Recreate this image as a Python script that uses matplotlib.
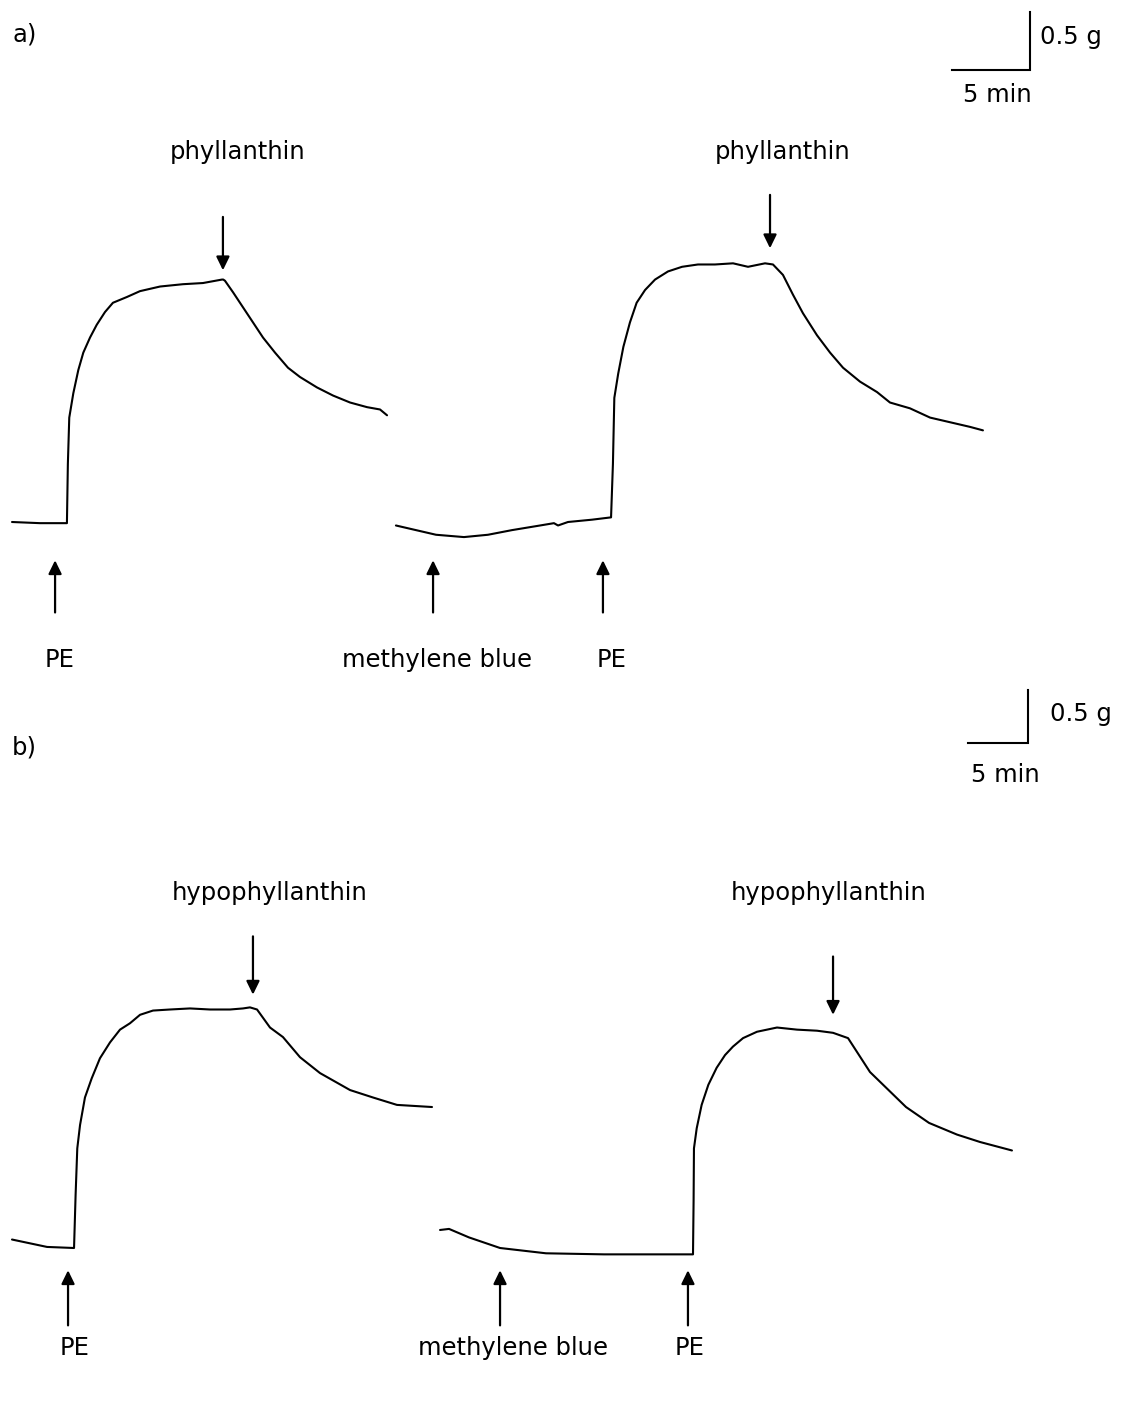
import matplotlib
matplotlib.use("Agg")
import matplotlib.pyplot as plt

# ---------------- data (time in min, tension in g above PE baseline) ----------------
# panel a) phyllanthin
a1_t = [0.77, 2.56, 4.29, 4.35, 4.44, 4.70, 5.02, 5.34, 5.77, 6.20, 6.73, 7.24, 8.14,
        8.97, 10.26, 11.73, 13.01, 14.23, 14.31, 14.42, 14.94, 15.58, 16.22, 16.86,
        17.63, 18.46, 19.23, 20.32, 21.35, 22.44, 23.53, 24.36, 24.81]
a1_g = [0.00, -0.01, -0.01, 0.50, 0.90, 1.11, 1.31, 1.46, 1.59, 1.70, 1.81, 1.89, 1.94,
        1.99, 2.03, 2.05, 2.06, 2.09, 2.09, 2.08, 1.98, 1.85, 1.72, 1.59,
        1.46, 1.33, 1.25, 1.16, 1.09, 1.03, 0.99, 0.97, 0.92]

a2_t = [25.38, 27.95, 29.74, 31.28, 32.82, 34.62, 35.51, 35.77, 36.41, 37.95, 39.17,
        39.29, 39.38, 39.63, 39.96, 40.38, 40.81, 41.35, 41.99, 42.82, 43.72, 44.74,
        45.83, 46.99, 47.95, 49.04, 49.55, 50.19, 50.83, 51.47, 52.37, 53.21, 54.04,
        55.13, 56.22, 57.05, 58.33, 59.62, 60.90, 62.18, 63.01]
a2_g = [-0.03, -0.11, -0.13, -0.11, -0.07, -0.03, -0.01, -0.03, 0.00, 0.02, 0.04,
        0.50, 1.07, 1.28, 1.51, 1.72, 1.89, 2.00, 2.09, 2.16, 2.20, 2.22,
        2.22, 2.23, 2.20, 2.23, 2.22, 2.13, 1.96, 1.80, 1.61, 1.46, 1.33,
        1.21, 1.12, 1.03, 0.98, 0.90, 0.86, 0.82, 0.79]

# panel b) hypophyllanthin
b1_t = [1.00, 2.25, 3.92, 6.17, 6.30, 6.44, 6.67, 7.08, 7.64, 8.33, 9.17, 10.00,
        10.83, 11.67, 12.75, 14.17, 15.83, 17.50, 19.17, 20.25, 20.83, 21.42, 22.50,
        23.58, 25.00, 26.67, 29.17, 31.08, 33.08, 36.00]
b1_g = [0.08, 0.05, 0.01, 0.00, 0.50, 0.94, 1.16, 1.42, 1.60, 1.79, 1.94, 2.06,
        2.12, 2.20, 2.24, 2.25, 2.26, 2.25, 2.25, 2.26, 2.27, 2.25, 2.08,
        1.99, 1.80, 1.65, 1.49, 1.42, 1.35, 1.33]

b2_t = [36.67, 37.42, 39.08, 41.67, 45.50, 50.33, 57.75, 57.80, 57.83, 58.06, 58.47,
        59.03, 59.72, 60.42, 61.08, 61.92, 63.08, 64.75, 66.42, 68.08, 69.42, 70.67,
        72.50, 75.50, 77.42, 79.75, 81.67, 84.33]
b2_g = [0.17, 0.18, 0.10, 0.00, -0.05, -0.06, -0.06, 0.45, 0.94, 1.13, 1.35,
        1.54, 1.70, 1.82, 1.90, 1.98, 2.04, 2.08, 2.06, 2.05, 2.03, 1.98,
        1.66, 1.33, 1.18, 1.07, 1.00, 0.92]

# events (time of addition, min)
a_drug_times = [14.29, 49.36]
a_drug_tip = [2.17, 2.36]
a_drug_label_t = [15.26, 50.19]
a_up_times = [3.53, 27.76, 38.65]
a_up_labels = ["PE", "methylene blue", "PE"]
a_up_label_t = [3.85, 28.01, 39.23]

b_drug_times = [21.08, 69.42]
b_drug_tip = [2.39, 2.20]
b_drug_label_t = [22.5, 69.08]
b_up_times = [5.67, 41.67, 57.33]
b_up_labels = ["PE", "methylene blue", "PE"]
b_up_label_t = [6.25, 42.75, 57.5]

# ---------------- figure ----------------
W, H = 1122, 1401
fig = plt.figure(figsize=(W / 100, H / 100), dpi=100)
FS = 17.5

def make_ax(top_px, bot_px, px_per_min, px_per_g, base_px):
    ax = fig.add_axes([0, 1 - bot_px / H, 1, (bot_px - top_px) / H])
    ax.set_xlim(0, W / px_per_min)
    ax.set_ylim((base_px - bot_px) / px_per_g, (base_px - top_px) / px_per_g)
    ax.axis("off")
    ax.patch.set_alpha(0)
    return ax

axa = make_ax(0, 700, 15.6, 116, 522)
axb = make_ax(680, 1401, 12.0, 106, 1248)

def arrow(ax, t, y_tip, y_tail):
    ax.annotate("", xy=(t, y_tip), xytext=(t, y_tail),
                arrowprops=dict(arrowstyle="-|>,head_length=0.45,head_width=0.22",
                                lw=1.6, color="black", mutation_scale=18,
                                shrinkA=0, shrinkB=0))

def scalebar(ax, t_right, g_bottom, label_g_t, label_min_t, label_min_g):
    ax.plot([t_right - 5, t_right, t_right], [g_bottom, g_bottom, g_bottom + 0.5],
            color="black", lw=1.5, solid_joinstyle="miter")
    ax.text(label_g_t, g_bottom + 0.28, "0.5 g", fontsize=FS, ha="left", va="center")
    ax.text(label_min_t, label_min_g, "5 min", fontsize=FS, ha="center", va="center")

TRACE = dict(color="black", lw=1.5, solid_joinstyle="round", solid_capstyle="round")

# panel a
axa.plot(a1_t, a1_g, **TRACE)
axa.plot(a2_t, a2_g, **TRACE)
for t, tip, lt in zip(a_drug_times, a_drug_tip, a_drug_label_t):
    arrow(axa, t, tip, tip + 0.46)
    axa.text(lt, 3.19, "phyllanthin", fontsize=FS, ha="center", va="center")
for t, lt, lab in zip(a_up_times, a_up_label_t, a_up_labels):
    arrow(axa, t, -0.33, -0.78)
    axa.text(lt, -1.19, lab, fontsize=FS, ha="center", va="center")
axa.text(0.77, 4.20, "a)", fontsize=FS, ha="left", va="center")
scalebar(axa, 66.03, 3.897, 66.67, 63.9, 3.68)

# panel b
axb.plot(b1_t, b1_g, **TRACE)
axb.plot(b2_t, b2_g, **TRACE)
for t, tip, lt in zip(b_drug_times, b_drug_tip, b_drug_label_t):
    arrow(axb, t, tip, tip + 0.55)
    axb.text(lt, 3.35, "hypophyllanthin", fontsize=FS, ha="center", va="center")
for t, lt, lab in zip(b_up_times, b_up_label_t, b_up_labels):
    arrow(axb, t, -0.21, -0.73)
    axb.text(lt, -0.94, lab, fontsize=FS, ha="center", va="center")
axb.text(1.0, 4.72, "b)", fontsize=FS, ha="left", va="center")
scalebar(axb, 85.67, 4.76, 87.5, 83.75, 4.46)

fig.savefig("out.png", dpi=100, facecolor="white")
